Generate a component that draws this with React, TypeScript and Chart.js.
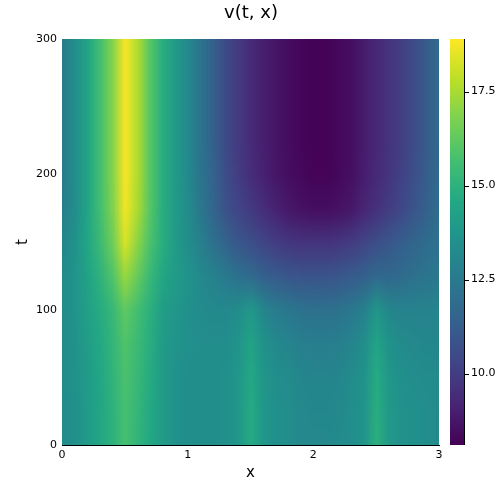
import React, { useEffect, useRef } from "react";
import { Chart, registerables } from "chart.js";

Chart.register(...registerables);

// ---------- data ----------
const xValues = [0, 0.1, 0.2, 0.3, 0.4, 0.5, 0.6, 0.7, 0.8, 0.9, 1.0, 1.1, 1.2, 1.3, 1.4, 1.5, 1.6, 1.7, 1.8, 1.9, 2.0, 2.1, 2.2, 2.3, 2.4, 2.5, 2.6, 2.7, 2.8, 2.9, 3.0];
const tValues = [0, 25, 50, 75, 100, 125, 150, 175, 200, 225, 250, 275, 300];

const v_t0 = [13.3, 13.5, 14.0, 14.5, 15.0, 15.7, 15.1, 14.6, 14.0, 13.6, 13.4, 13.4, 13.4, 13.5, 13.8, 14.7, 13.8, 13.5, 13.4, 13.2, 13.2, 13.2, 13.3, 13.4, 13.7, 14.9, 13.9, 13.6, 13.5, 13.4, 13.3];
const v_t25 = [13.3, 13.5, 14.0, 14.5, 15.0, 15.7, 15.2, 14.6, 14.0, 13.6, 13.4, 13.4, 13.4, 13.5, 13.8, 14.7, 13.8, 13.5, 13.4, 13.2, 13.1, 13.1, 13.2, 13.4, 13.7, 14.8, 13.9, 13.6, 13.5, 13.4, 13.3];
const v_t50 = [13.3, 13.6, 14.0, 14.5, 15.1, 15.8, 15.3, 14.7, 14.0, 13.6, 13.4, 13.4, 13.4, 13.5, 13.8, 14.6, 13.8, 13.4, 13.3, 13.1, 13.0, 13.0, 13.1, 13.3, 13.6, 14.7, 13.8, 13.5, 13.4, 13.3, 13.3];
const v_t75 = [13.3, 13.6, 14.1, 14.6, 15.2, 15.9, 15.4, 14.8, 14.0, 13.7, 13.5, 13.4, 13.4, 13.4, 13.7, 14.4, 13.6, 13.2, 13.0, 12.8, 12.7, 12.7, 12.8, 13.0, 13.4, 14.4, 13.6, 13.3, 13.2, 13.1, 13.1];
const v_t100 = [13.3, 13.7, 14.2, 14.7, 15.3, 16.2, 15.6, 14.9, 14.1, 13.8, 13.5, 13.3, 13.2, 13.2, 13.4, 13.9, 13.1, 12.6, 12.4, 12.2, 12.1, 12.1, 12.2, 12.4, 12.8, 13.8, 13.1, 12.9, 12.9, 12.9, 13.0];
const v_t125 = [13.3, 13.7, 14.3, 15.0, 15.9, 17.2, 16.3, 15.3, 14.5, 14.0, 13.7, 13.2, 12.9, 12.5, 12.1, 11.9, 11.4, 11.2, 11.0, 10.9, 10.9, 10.9, 11.0, 11.2, 11.4, 11.8, 11.7, 11.9, 12.1, 12.3, 12.4];
const v_t150 = [13.0, 13.6, 14.5, 15.4, 16.5, 18.3, 17.0, 15.8, 14.8, 14.0, 13.4, 12.8, 12.1, 11.5, 11.0, 10.7, 10.3, 10.0, 9.8, 9.7, 9.7, 9.7, 9.8, 10.0, 10.3, 10.7, 11.0, 11.3, 11.6, 11.9, 12.2];
const v_t175 = [12.7, 13.4, 14.4, 15.6, 16.8, 18.7, 17.5, 16.0, 14.8, 14.0, 13.3, 12.4, 11.6, 10.8, 10.3, 9.9, 9.5, 9.1, 8.8, 8.6, 8.5, 8.5, 8.6, 8.8, 9.2, 9.6, 10.0, 10.4, 10.9, 11.4, 12.0];
const v_t200 = [12.6, 13.4, 14.4, 15.6, 16.9, 18.8, 17.6, 16.0, 14.8, 14.0, 13.2, 12.3, 11.5, 10.6, 10.0, 9.5, 9.05, 8.75, 8.5, 8.3, 8.2, 8.2, 8.35, 8.55, 8.95, 9.35, 9.75, 10.2, 10.7, 11.25, 11.9];
const v_t225 = [12.6, 13.4, 14.4, 15.6, 16.9, 18.8, 17.6, 16.0, 14.8, 14.0, 13.2, 12.2, 11.4, 10.5, 9.9, 9.4, 9.0, 8.7, 8.45, 8.25, 8.15, 8.15, 8.3, 8.5, 8.9, 9.3, 9.7, 10.1, 10.6, 11.2, 11.9];
const v_t250 = [12.6, 13.4, 14.4, 15.6, 16.9, 18.8, 17.6, 16.0, 14.8, 14.0, 13.2, 12.2, 11.4, 10.5, 9.9, 9.4, 9.0, 8.7, 8.45, 8.25, 8.15, 8.15, 8.3, 8.5, 8.9, 9.3, 9.7, 10.1, 10.6, 11.2, 11.9];
const v_t275 = [12.6, 13.4, 14.4, 15.6, 16.9, 18.8, 17.6, 16.0, 14.8, 14.0, 13.2, 12.2, 11.4, 10.5, 9.9, 9.4, 9.0, 8.7, 8.45, 8.25, 8.15, 8.15, 8.3, 8.5, 8.9, 9.3, 9.7, 10.1, 10.6, 11.2, 11.9];
const v_t300 = [12.6, 13.4, 14.4, 15.6, 16.9, 18.8, 17.6, 16.0, 14.8, 14.0, 13.2, 12.2, 11.4, 10.5, 9.9, 9.4, 9.0, 8.7, 8.45, 8.25, 8.15, 8.15, 8.3, 8.5, 8.9, 9.3, 9.7, 10.1, 10.6, 11.2, 11.9];

// rows ordered like tValues
const vRows = [v_t0, v_t25, v_t50, v_t75, v_t100, v_t125, v_t150, v_t175, v_t200, v_t225, v_t250, v_t275, v_t300];

const xTicks = [0, 1, 2, 3];
const tTicks = [0, 100, 200, 300];
const cbTicks = [10.0, 12.5, 15.0, 17.5];
const cbMin = 8.1;
const cbMax = 18.9;
const titleText = "v(t, x)";

// viridis colormap stops
const VIRIDIS = ["#440154", "#482576", "#414487", "#35608d", "#2a788e", "#21908c", "#22a884", "#43bf71", "#7ad151", "#bbdf27", "#fde725"];
const VIRIDIS_RGB = VIRIDIS.map((h) => [parseInt(h.slice(1, 3), 16), parseInt(h.slice(3, 5), 16), parseInt(h.slice(5, 7), 16)]);

function viridis(v: number): number[] {
  let f = (v - cbMin) / (cbMax - cbMin);
  f = Math.max(0, Math.min(1, f));
  const p = f * (VIRIDIS_RGB.length - 1);
  const i = Math.min(VIRIDIS_RGB.length - 2, Math.floor(p));
  const r = p - i;
  const a = VIRIDIS_RGB[i], b = VIRIDIS_RGB[i + 1];
  return [0, 1, 2].map((k) => Math.round(a[k] + (b[k] - a[k]) * r));
}

const FONT = "'DejaVu Sans', sans-serif";

const heatmapPlugin = {
  id: "heatmap",
  beforeDatasetsDraw(chart: any) {
    const { ctx, chartArea, scales } = chart;
    const xs = scales.x, ys = scales.y, cs = scales.cb;
    const nx = xValues.length, ny = tValues.length;
    const off = document.createElement("canvas");
    off.width = nx;
    off.height = ny;
    const octx = off.getContext("2d")!;
    const img = octx.createImageData(nx, ny);
    for (let j = 0; j < ny; j++) {
      const row = vRows[ny - 1 - j];
      for (let i = 0; i < nx; i++) {
        const c = viridis(row[i]);
        const idx = (j * nx + i) * 4;
        img.data[idx] = c[0];
        img.data[idx + 1] = c[1];
        img.data[idx + 2] = c[2];
        img.data[idx + 3] = 255;
      }
    }
    octx.putImageData(img, 0, 0);
    const dx = (xValues[1] - xValues[0]) / 2;
    const dt = (tValues[1] - tValues[0]) / 2;
    const left = xs.getPixelForValue(xValues[0] - dx);
    const right = xs.getPixelForValue(xValues[nx - 1] + dx);
    const top = ys.getPixelForValue(tValues[ny - 1] + dt);
    const bottom = ys.getPixelForValue(tValues[0] - dt);
    ctx.save();
    ctx.beginPath();
    ctx.rect(chartArea.left, chartArea.top, chartArea.right - chartArea.left, chartArea.bottom - chartArea.top);
    ctx.clip();
    ctx.imageSmoothingEnabled = true;
    ctx.imageSmoothingQuality = "low";
    ctx.drawImage(off, left, top, right - left, bottom - top);
    ctx.restore();

    // colorbar
    const x0 = chartArea.right + 11;
    const w = 14;
    const cTop = cs.getPixelForValue(cbMax);
    const cBot = cs.getPixelForValue(cbMin);
    ctx.save();
    for (let py = Math.floor(cTop); py < Math.ceil(cBot); py++) {
      const val = cs.getValueForPixel(py + 0.5);
      const c = viridis(val);
      ctx.fillStyle = `rgb(${c[0]},${c[1]},${c[2]})`;
      ctx.fillRect(x0, py, w, 1);
    }
    ctx.strokeStyle = "#000";
    ctx.lineWidth = 1;
    ctx.beginPath();
    ctx.moveTo(x0 + w + 0.5, cTop);
    ctx.lineTo(x0 + w + 0.5, cBot);
    for (const v of cbTicks) {
      const py = Math.round(cs.getPixelForValue(v)) + 0.5;
      ctx.moveTo(x0 + w, py);
      ctx.lineTo(x0 + w + 5, py);
    }
    ctx.stroke();
    ctx.restore();
  },
};

export default function App() {
  const ref = useRef<HTMLCanvasElement | null>(null);
  useEffect(() => {
    if (!ref.current) return;
    const chart = new Chart(ref.current, {
      type: "scatter",
      data: { datasets: [{ data: [], pointRadius: 0 }] },
      options: {
        animation: false,
        responsive: false,
        devicePixelRatio: 1,
        layout: { padding: 0 },
        plugins: {
          legend: { display: false },
          tooltip: { enabled: false },
          title: {
            display: true,
            text: titleText,
            color: "#000",
            font: { family: FONT, size: 18, weight: "normal" },
            padding: { top: 3, bottom: 14.4 },
          },
        },
        scales: {
          x: {
            type: "linear",
            min: 0,
            max: 3,
            afterFit: (s: any) => { s.height = 57; },
            afterBuildTicks: (s: any) => { s.ticks = xTicks.map((v) => ({ value: v })); },
            grid: { display: false, drawTicks: false },
            border: { display: true, color: "#000", width: 1 },
            ticks: { color: "#000", padding: 4, font: { family: FONT, size: 11 }, callback: (v: any) => String(v) },
            title: { display: true, text: "x", color: "#000", font: { family: FONT, size: 15 }, padding: { top: 0, bottom: 20 } },
          },
          y: {
            type: "linear",
            position: "left",
            min: 0,
            max: 300,
            afterFit: (s: any) => { s.width = 62; },
            afterBuildTicks: (s: any) => { s.ticks = tTicks.map((v) => ({ value: v })); },
            grid: { display: false, drawTicks: false },
            border: { display: true, color: "#000", width: 1 },
            ticks: { color: "#000", padding: 5, font: { family: FONT, size: 11 }, callback: (v: any) => String(v) },
            title: { display: true, text: "t", color: "#000", font: { family: FONT, size: 15 }, padding: { top: 14, bottom: 0 } },
          },
          cb: {
            type: "linear",
            axis: "y",
            position: "right",
            min: cbMin,
            max: cbMax,
            afterFit: (s: any) => { s.width = 63; },
            afterBuildTicks: (s: any) => { s.ticks = cbTicks.map((v) => ({ value: v })); },
            grid: { display: false, drawTicks: false },
            border: { display: false },
            ticks: { color: "#000", padding: 32, font: { family: FONT, size: 11 }, callback: (v: any) => Number(v).toFixed(1) },
          },
        },
      },
      plugins: [heatmapPlugin],
    } as any);
    return () => chart.destroy();
  }, []);
  return (
    <div style={{ position: "absolute", left: 0, top: 0, width: 502, height: 502, background: "#fff" }}>
      <canvas ref={ref} width={502} height={502} style={{ display: "block" }} />
    </div>
  );
}
